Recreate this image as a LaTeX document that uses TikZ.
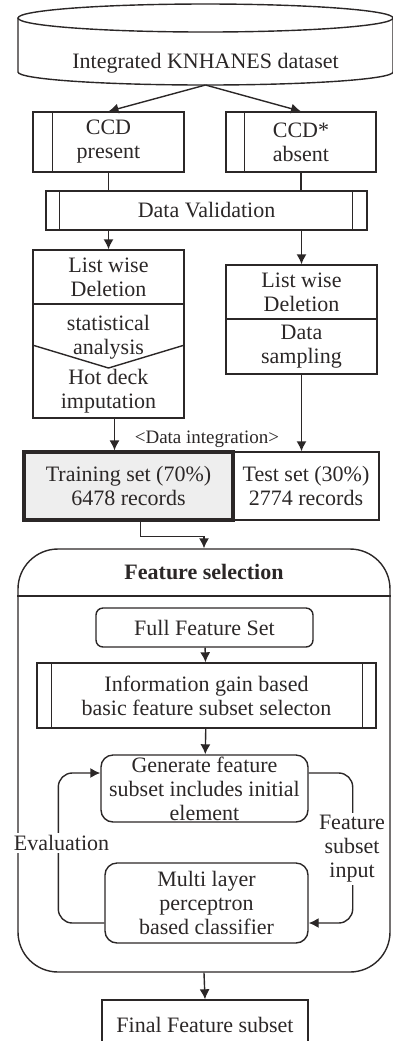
\documentclass[tikz,border=0pt]{standalone}
\usepackage{fontspec}
\setmainfont{Liberation Serif}
\usetikzlibrary{calc,arrows.meta}
\definecolor{ink}{HTML}{2B2727}
\tikzset{
  box/.style={draw=ink, line width=0.7pt, inner sep=0pt, align=center, text=ink},
  rbox/.style={box, rounded corners=3.5pt},
  lbl/.style={inner sep=1pt, align=center, text=ink},
  link/.style={draw=ink, line width=0.7pt},
  flow/.style={link, -{Latex[length=5pt,width=5pt]}},
}

\begin{document}
\begin{tikzpicture}[x=0.5pt, y=-0.5pt, font=\fontsize{11}{12}\selectfont]
    \useasboundingbox (0,0) rectangle (392,1041);
    % dataset
    \draw[link] (18,18) -- (18,72) arc[start angle=180, end angle=0, x radius=187.5, y radius=13] -- (393,18);
    \draw[link] (205.5,18) ellipse [x radius=187.5, y radius=14];
    \node[lbl] (db) at (205.5,63) {Integrated KNHANES dataset};
    \coordinate (dbout) at (205.5,85);

    % split by CCD
    \node[box, minimum width=75.5pt, minimum height=30pt] (ccdL) at (108.5,142) {CCD\\present};
    \draw[link] ([xshift=10pt]ccdL.north west) -- ([xshift=10pt]ccdL.south west);
    \node[box, minimum width=75pt, minimum height=30pt] (ccdR) at (301,142) {CCD*\\absent};
    \draw[link] ([xshift=9.5pt]ccdR.north west) -- ([xshift=9.5pt]ccdR.south west);
    \draw[flow] (dbout) -- (ccdL.north);
    \draw[flow] (dbout) -- (ccdR.north);

    \node[box, minimum width=160.5pt, minimum height=19.5pt] (dv) at (206.5,210.5) {Data Validation};
    \draw[link] ([xshift=7pt]dv.north west) -- ([xshift=7pt]dv.south west);
    \draw[link] ([xshift=-7.5pt]dv.north east) -- ([xshift=-7.5pt]dv.south east);
    \draw[link] (ccdL.south) -- (ccdL.south |- dv.north);
    \draw[link] (ccdR.south) -- (ccdR.south |- dv.north);

    % left column
    \node[box, minimum width=75.5pt, minimum height=27pt] (lwL1) at (108.5,277) {List wise\\Deletion};
    \node[box, minimum width=75.5pt, minimum height=57pt] (lwL2) at (108.5,361) {};
    \draw[link] ([yshift=8pt]lwL2.west) -- ([yshift=-3.5pt]lwL2.center) -- ([yshift=8pt]lwL2.east);
    \node[lbl] (stat) at (108.5,337.5) {statistical\\analysis};
    \node[lbl] (hot) at (108.5,391) {Hot deck\\imputation};
    % right column
    \node[box, minimum width=75.5pt, minimum height=27pt] (lwR1) at (301.5,292) {List wise\\Deletion};
    \node[box, minimum width=75.5pt, minimum height=27.5pt] (lwR2) at (301.5,346.5) {Data\\sampling};
    \draw[flow] (lwL1.north |- dv.south) -- (lwL1.north);
    \draw[flow] (lwR1.north |- dv.south) -- (lwR1.north);

    % data integration
    \node[box, minimum width=73pt, minimum height=34pt] (test) at (306,486) {Test set (30\%)\\2774 records};
    \node[box, line width=1.6pt, fill=gray!13, minimum width=104.5pt, minimum height=34pt] (train) at (128.5,486) {Training set (70\%)\\6478 records};
    \draw[flow] ([xshift=3pt]lwL2.south) -- ([xshift=3pt]lwL2.south |- train.north);
    \draw[flow] (lwR2.south) -- (lwR2.south |- test.north);
    \node[lbl, font=\fontsize{9.5}{11}\selectfont] (dint) at (207,439) {<Data integration>};

    % feature selection
    \node[box, rounded corners=20pt, minimum width=186pt, minimum height=211.5pt] (fs) at (204,760.5) {};
    \coordinate (hdr) at (204,596);
    \draw[link] (fs.west |- hdr) -- (fs.east |- hdr);
    \node[lbl, font=\fontsize{11}{12}\selectfont\bfseries] (fstitle) at (204,572) {Feature selection};
    \draw[flow] ([xshift=6pt]train.south) -- ++(0,15) -| (fs.north);

    \node[rbox, minimum width=108.5pt, minimum height=19.5pt] (full) at (204.5,627.5) {Full Feature Set};
    \node[box, minimum width=169.5pt, minimum height=32.5pt] (info) at (206.5,695.5) {Information gain based\\basic feature subset selecton};
    \draw[link] ([xshift=7.5pt]info.north west) -- ([xshift=7.5pt]info.south west);
    \draw[link] ([xshift=-7pt]info.north east) -- ([xshift=-7pt]info.south east);
    \node[rbox, rounded corners=6pt, minimum width=103.5pt, minimum height=33.5pt] (gen) at (204.5,788.5) {Generate feature\\subset includes initial\\element};
    \node[rbox, rounded corners=6pt, minimum width=101.5pt, minimum height=40pt] (mlp) at (206.5,903) {Multi layer\\perceptron\\based classifier};
    \draw[flow] (full) -- (info);
    \draw[flow] (info) -- (gen);

    % search loop
    \draw[flow, rounded corners=7pt] ([yshift=7.75pt]gen.east) -| ([xshift=22pt,yshift=-10pt]mlp.east) -- ([yshift=-10pt]mlp.east);
    \draw[flow, rounded corners=7pt] ([yshift=-10pt]mlp.west) -| ([xshift=-21pt,yshift=7.75pt]gen.west) -- ([yshift=7.75pt]gen.west);
    \node[lbl, fill=white] (eval) at (61.5,843) {Evaluation};
    \node[lbl, fill=white] (fsin) at (352,849) {Feature\\subset\\input};

    \node[box, minimum width=103pt, minimum height=25pt] (final) at (205,1025) {Final Feature subset};
    \draw[flow] (fs.south) -- (final.north);
\end{tikzpicture}
\end{document}
